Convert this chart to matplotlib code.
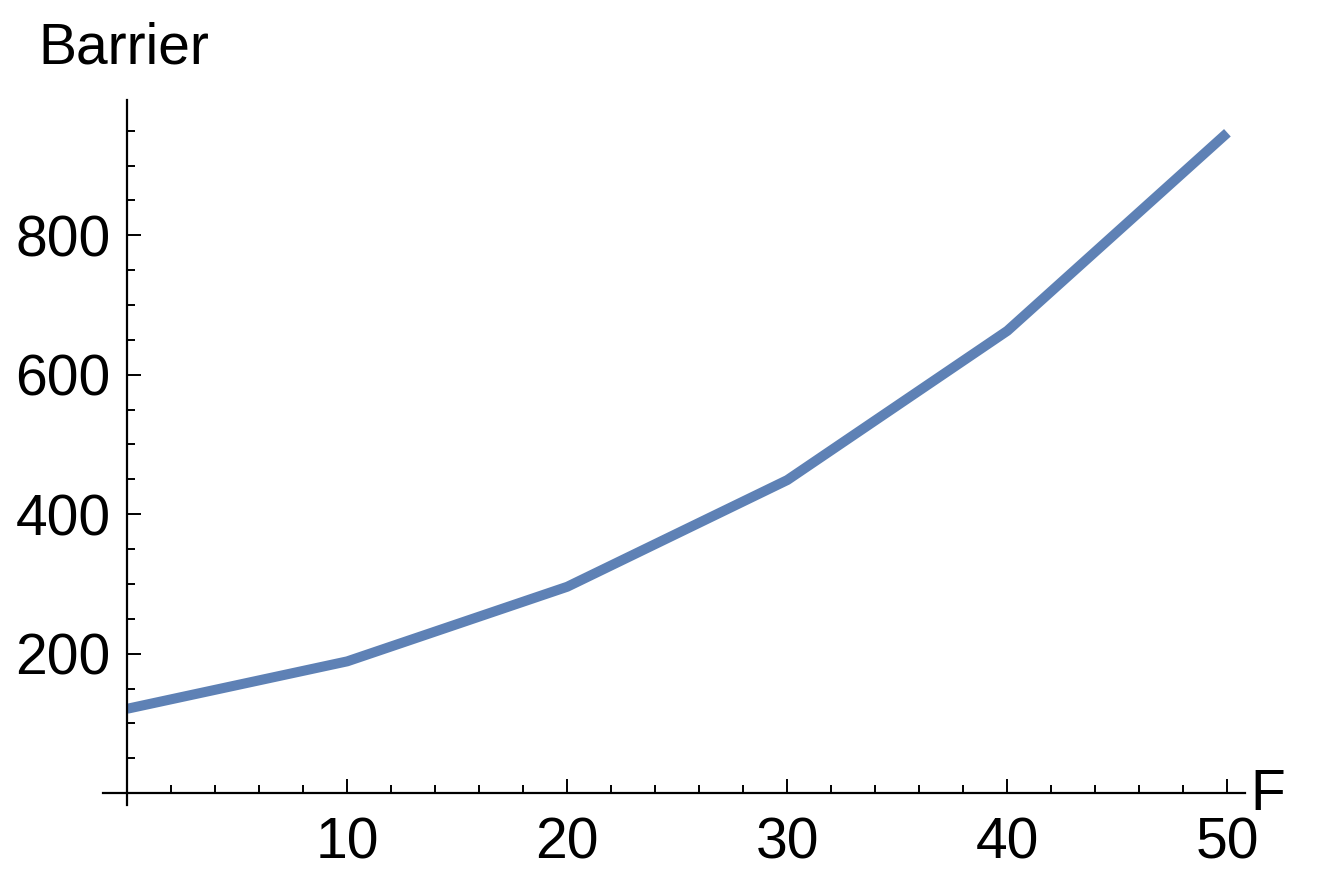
import matplotlib.pyplot as plt
from matplotlib.ticker import MultipleLocator, FixedLocator

force = [0, 10, 20, 30, 40, 50]
barrier = [121, 189, 296, 449, 663, 947]
xticks = [10, 20, 30, 40, 50]
yticks = [200, 400, 600, 800]

plt.rcParams['font.family'] = ['Liberation Sans', 'DejaVu Sans']

fig = plt.figure(figsize=(13.28, 8.77), dpi=100)
ax = fig.add_axes([103/1328, 72/877, 1142/1328, 705/877])
ax.plot(force, barrier, color='#5E81B5', lw=7.2, solid_capstyle='butt')

ax.set_xlim(-1.1, 50.8)
ax.set_ylim(-17, 994)
for s in ['top', 'right']:
    ax.spines[s].set_visible(False)
ax.spines['left'].set_position(('data', 0))
ax.spines['bottom'].set_position(('data', 0))
for s in ['left', 'bottom']:
    ax.spines[s].set_linewidth(1.6)

ax.xaxis.set_major_locator(FixedLocator(xticks))
ax.yaxis.set_major_locator(FixedLocator(yticks))
ax.xaxis.set_minor_locator(MultipleLocator(2))
ax.yaxis.set_minor_locator(MultipleLocator(50))
ax.tick_params(which='both', direction='in', width=1.4, labelsize=41)
ax.tick_params(which='major', length=10)
ax.tick_params(which='minor', length=6)
ax.tick_params(axis='x', which='major', pad=17)
ax.tick_params(axis='y', which='major', pad=12)

fig.text(1250/1328, 1 - 795/877, 'F', fontsize=41, ha='left', va='center')
fig.text(38/1328, 1 - 48/877, 'Barrier', fontsize=41, ha='left', va='center')

fig.savefig('out.png', dpi=100)
